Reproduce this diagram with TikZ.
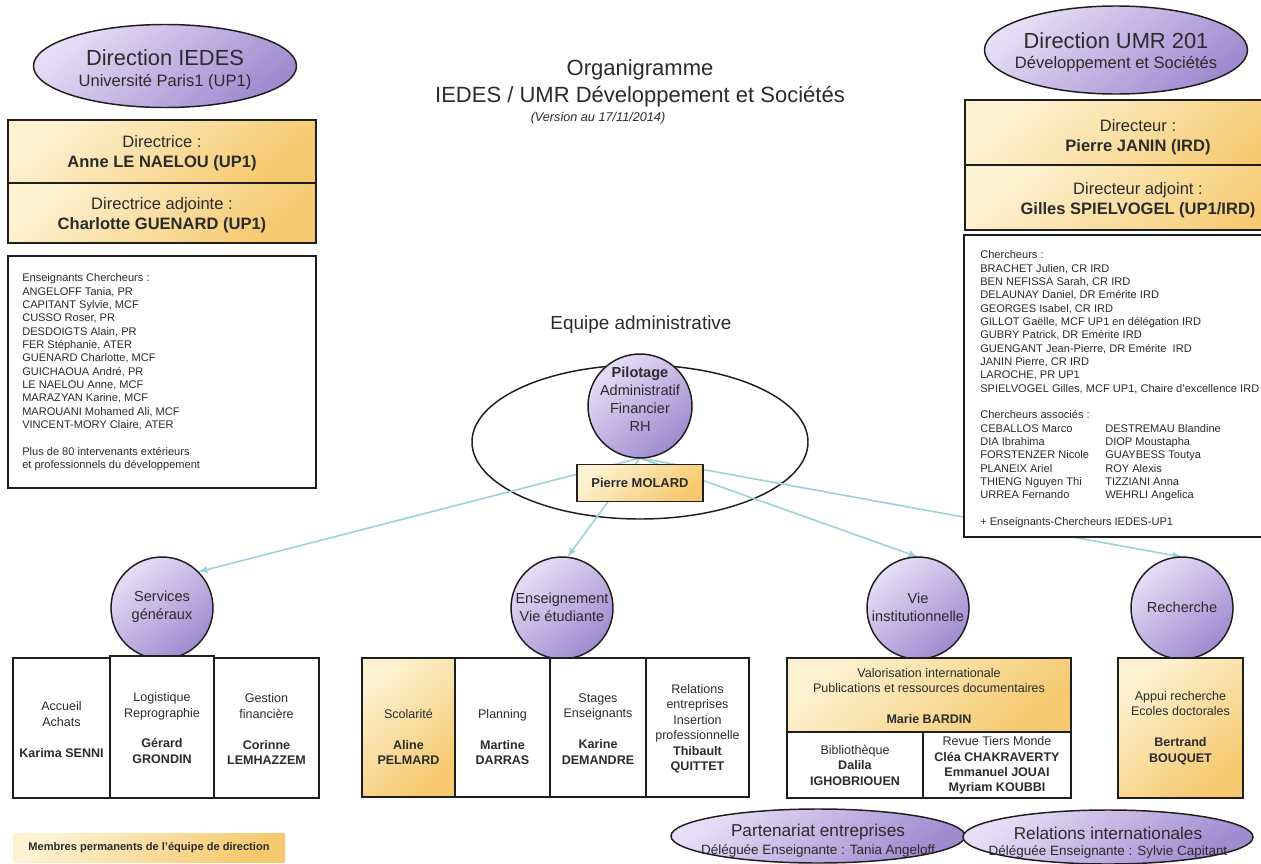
\documentclass[tikz,border=0pt]{standalone}
\usepackage{fontspec}
\setmainfont{Liberation Sans}
\usetikzlibrary{arrows.meta,shapes.geometric}
\pgfdeclarelayer{bg}
\pgfsetlayers{bg,main}
\definecolor{lavL}{HTML}{E6DEF6}
\definecolor{lavD}{HTML}{A08AD0}
\definecolor{yelL}{HTML}{FDF2D2}
\definecolor{yelD}{HTML}{F6C96E}
\definecolor{arrc}{HTML}{9DD3D6}
\definecolor{ink}{HTML}{1E1E1E}
\definecolor{txt}{HTML}{2B2B2B}
\begin{document}
\begin{tikzpicture}[x=0.75pt,y=-0.75pt,
  lav/.style={draw=ink, line width=1.1pt, top color=lavL, bottom color=lavD, shading angle=40},
  yel/.style={draw=ink, line width=1.2pt, top color=yelL, bottom color=yelD, shading angle=40},
  wbox/.style={draw=ink, line width=1.2pt, fill=white},
  sz/.style 2 args={rectangle, minimum width=#1*0.75pt, minimum height=#2*0.75pt, inner sep=0pt, outer sep=0pt},
  circ/.style={circle, lav, inner sep=0pt, outer sep=0pt, minimum size=#1*1.5pt},
  ell/.style 2 args={ellipse, lav, inner sep=0pt, outer sep=0pt, minimum width=#1*0.75pt, minimum height=#2*0.75pt},
  lbl/.style={inner sep=0pt, text=txt, align=center},
  btxt/.style={lbl, font=\fontsize{9.4}{11.6}\selectfont},
  ctxt/.style={lbl, font=\fontsize{10.9}{13.6}\selectfont},
  ltxt/.style={inner sep=0pt, text=txt, align=left, anchor=north west, font=\fontsize{8.3}{10}\selectfont},
  htxt/.style={lbl, font=\fontsize{12.4}{15}\selectfont},
  conn/.style={draw=arrc, line width=1.2pt, -{Latex[length=7pt,width=5.5pt]}},
]
\begin{pgfonlayer}{bg}
\fill[white] (0,0) rectangle (1261,864);
\end{pgfonlayer}
\useasboundingbox (0,0) rectangle (1261,864);

% title
\node[lbl, font=\fontsize{16.5}{19}\selectfont] (t1) at (640,70) {Organigramme};
\node[lbl, font=\fontsize{16.5}{19}\selectfont] (t2) at (640,97) {IEDES / UMR Développement et Sociétés};
\node[lbl, font=\fontsize{9.5}{12}\selectfont\itshape] (t3) at (598,118) {(Version au 17/11/2014)};

% left header
\node[ell={263}{83}] (dirI) at (165,66) {};
\node[lbl, font=\fontsize{16.4}{19}\selectfont] (dirIa) at (165,58) {Direction IEDES};
\node[lbl, font=\fontsize{12.4}{15}\selectfont] (dirIb) at (165,82) {Université Paris1 (UP1)};
\node[sz={308}{63}, yel] (dA) at (162,151.5) {};
\node[htxt] (dAt) at (162,153) {Directrice :\\\textbf{Anne LE NAELOU (UP1)}};
\node[sz={308}{60}, yel] (dB) at (162,213) {};
\node[htxt] (dBt) at (162,215.5) {Directrice adjointe :\\\textbf{Charlotte GUENARD (UP1)}};
\node[sz={308}{232}, wbox] (lbox) at (162,372) {};
\node[ltxt] (ltx) at (22,273.5) {Enseignants Chercheurs :\\
ANGELOFF Tania, PR\\
CAPITANT Sylvie, MCF\\
CUSSO Roser, PR\\
DESDOIGTS Alain, PR\\
FER Stéphanie, ATER\\
GUENARD Charlotte, MCF\\
GUICHAOUA André, PR\\
LE NAELOU Anne, MCF\\
MARAZYAN Karine, MCF\\
MAROUANI Mohamed Ali, MCF\\
VINCENT-MORY Claire, ATER\\[10pt]
Plus de 80 intervenants extérieurs\\
et professionnels du développement};

% right header
\node[ell={263}{88}] (dirU) at (1116,50) {};
\node[lbl, font=\fontsize{16.4}{19}\selectfont] (dirUa) at (1116,41) {Direction UMR 201};
\node[lbl, font=\fontsize{12.4}{15}\selectfont] (dirUb) at (1116,64) {Développement et Sociétés};
\node[sz={346}{65}, yel] (dC) at (1138,132.5) {};
\node[htxt] (dCt) at (1138,137) {Directeur :\\\textbf{Pierre JANIN (IRD)}};
\node[sz={346}{65}, yel] (dD) at (1138,197.5) {};
\node[htxt] (dDt) at (1138,200) {Directeur adjoint :\\\textbf{Gilles SPIELVOGEL (UP1/IRD)}};
\node[sz={347}{302}, wbox] (rbox) at (1137.5,386) {};
\node[ltxt] (rtx) at (980,250.5) {Chercheurs :\\
BRACHET Julien, CR IRD\\
BEN NEFISSA Sarah, CR IRD\\
DELAUNAY Daniel, DR Emérite IRD\\
GEORGES Isabel, CR IRD\\
GILLOT Gaëlle, MCF UP1 en délégation IRD\\
GUBRY Patrick, DR Emérite IRD\\
GUENGANT Jean-Pierre, DR Emérite~ IRD\\
JANIN Pierre, CR IRD\\
LAROCHE, PR UP1\\
SPIELVOGEL Gilles, MCF UP1, Chaire d'excellence IRD\\[10pt]
Chercheurs associés :\\
CEBALLOS Marco\\
DIA Ibrahima\\
FORSTENZER Nicole\\
PLANEIX Ariel\\
THIENG Nguyen Thi\\
URREA Fernando\\[10pt]
+ Enseignants-Chercheurs IEDES-UP1};
\node[ltxt] (rtx2) at (1105,423.83) {DESTREMAU Blandine\\
DIOP Moustapha\\
GUAYBESS Toutya\\
ROY Alexis\\
TIZZIANI Anna\\
WEHRLI Angelica};

% centre
\node[lbl, font=\fontsize{14.2}{17}\selectfont] (eq) at (641,325) {Equipe administrative};
\node[circ=52] (pil) at (640,406) {};
\node[ctxt] (pilt) at (640,399) {\textbf{Pilotage}\\Administratif\\Financier\\RH};
\node[sz={126}{37}, yel] (mol) at (640,483) {};
\node[lbl, font=\bfseries\fontsize{9.7}{12}\selectfont] (molt) at (640,483) {Pierre MOLARD};

% level circles
\node[circ=51] (serv) at (162,608) {};
\node[ctxt] (servt) at (162,607) {Services\\généraux};
\node[circ=51] (ens) at (562,608) {};
\node[ctxt] (enst) at (562,607) {Enseignement\\Vie étudiante};
\node[circ=51] (vie) at (918,608) {};
\node[ctxt] (viet) at (918,607) {Vie\\institutionnelle};
\node[circ=51] (rech) at (1182,608) {};
\node[ctxt] (recht) at (1182,607) {Recherche};

% services boxes
\node[sz={97}{140}, wbox] (s1) at (61.5,728) {};
\node[btxt] (s1t) at (61.5,729.5) {Accueil\\Achats\\[11.6pt]\textbf{Karima SENNI}};
\node[sz={104}{142}, wbox] (s2) at (162,727) {};
\node[btxt] (s2t) at (162,728) {Logistique\\Reprographie\\[11.6pt]\textbf{Gérard}\\\textbf{GRONDIN}};
\node[sz={105}{140}, wbox] (s3) at (266.5,728) {};
\node[btxt] (s3t) at (266.5,729) {Gestion\\financière\\[11.6pt]\textbf{Corinne}\\\textbf{LEMHAZZEM}};

% enseignement boxes
\node[sz={93}{139}, yel] (e1) at (408.5,727.5) {};
\node[btxt] (e1t) at (408.5,737) {Scolarité\\[11.6pt]\textbf{Aline}\\\textbf{PELMARD}};
\node[sz={95}{139}, wbox] (e2) at (502.5,727.5) {};
\node[btxt] (e2t) at (502.5,737) {Planning\\[11.6pt]\textbf{Martine}\\\textbf{DARRAS}};
\node[sz={96}{139}, wbox] (e3) at (598,727.5) {};
\node[btxt] (e3t) at (598,729) {Stages\\Enseignants\\[11.6pt]\textbf{Karine}\\\textbf{DEMANDRE}};
\node[sz={103}{139}, wbox] (e4) at (697.5,727.5) {};
\node[btxt] (e4t) at (697.5,728.5) {Relations\\entreprises\\Insertion\\professionnelle\\\textbf{Thibault}\\\textbf{QUITTET}};

% vie institutionnelle boxes
\node[sz={284}{74}, yel] (v0) at (929,695) {};
\node[btxt] (v0t) at (929,696) {Valorisation internationale\\Publications et ressources documentaires\\[11.6pt]\textbf{Marie BARDIN}};
\node[sz={136}{66}, wbox] (v1) at (855,765) {};
\node[btxt] (v1t) at (855,765) {Bibliothèque\\\textbf{Dalila}\\\textbf{IGHOBRIOUEN}};
\node[sz={148}{66}, wbox] (v2) at (997,765) {};
\node[btxt] (v2t) at (997,765.5) {Revue Tiers Monde\\\textbf{Cléa CHAKRAVERTY}\\\textbf{Emmanuel JOUAI}\\\textbf{Myriam KOUBBI}};

% recherche box
\node[sz={125}{140}, yel] (r1) at (1180.5,728) {};
\node[btxt] (r1t) at (1180.5,728) {Appui recherche\\Ecoles doctorales\\[11.6pt]\textbf{Bertrand}\\\textbf{BOUQUET}};

% bottom ellipses
\node[ell={294}{54}] (part) at (818,836) {};
\node[lbl, font=\fontsize{12.9}{15}\selectfont] (partA) at (818,832) {Partenariat entreprises};
\node[lbl, font=\fontsize{10.1}{12}\selectfont] (partB) at (818,851) {Déléguée Enseignante : Tania Angeloff};
\node[ell={290}{54}] (rel) at (1108,837) {};
\node[lbl, font=\fontsize{12.9}{15}\selectfont] (relA) at (1108,833) {Relations internationales};
\node[lbl, font=\fontsize{10.1}{12}\selectfont] (relB) at (1108,852) {Déléguée Enseignante : Sylvie Capitant};

% legend
\node[sz={272}{29}, top color=yelL, bottom color=yelD, shading angle=40] (leg) at (149,847.5) {};
\node[lbl, font=\bfseries\fontsize{8.3}{10}\selectfont] (legt) at (149,848) {Membres permanents de l'équipe de direction};

% background: admin ellipse and arrows
\begin{pgfonlayer}{bg}
\node[ellipse, draw=ink, line width=1.1pt, inner sep=0pt, minimum width=252pt, minimum height=115.5pt] (bigE) at (640,442) {};
\draw[conn] (pil.south) -- (serv.45);
\draw[conn] (pil.south) -- (ens.84);
\draw[conn] (pil.south) -- (vie.north);
\draw[conn] (pil.south) -- (rech.north);
\end{pgfonlayer}
\end{tikzpicture}
\end{document}
